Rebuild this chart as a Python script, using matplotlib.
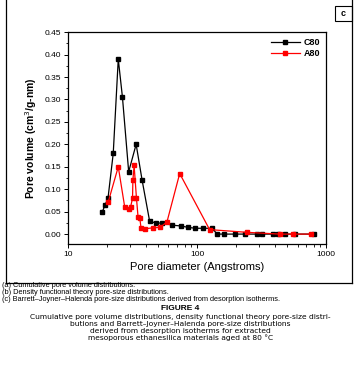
import numpy as np
import matplotlib.pyplot as plt
from matplotlib.lines import Line2D
from matplotlib.patches import Rectangle

plt.rcParams['font.family'] = ['Liberation Sans', 'DejaVu Sans']

# C80 data (BJH desorption)
c80_d = [18.4, 19.3, 20.4, 22.4, 24.5, 26.4, 29.5, 33.7, 37.5, 42.8, 47.9, 53.9,
         63.9, 75.5, 85, 97, 111, 131, 143, 163, 195, 237, 290, 319, 385, 426,
         480, 576, 804]
c80_v = [0.049, 0.064, 0.080, 0.180, 0.390, 0.305, 0.139, 0.200, 0.120, 0.030,
         0.024, 0.025, 0.020, 0.018, 0.015, 0.013, 0.013, 0.013, 0.0, 0.0, 0.0,
         0.0, 0.0, 0.0, 0.0, 0.0, 0.0, 0.0, 0.0]

# A80 data
a80_d = [20.5, 24.5, 27.5, 29.6, 30.5, 31.6, 31.8, 32.5, 33.9, 34.9, 36.0, 36.8,
         39.8, 45.6, 51.6, 58.4, 73.3, 125, 242, 435, 551, 760]
a80_v = [0.072, 0.150, 0.060, 0.057, 0.060, 0.080, 0.120, 0.153, 0.080, 0.037,
         0.035, 0.013, 0.012, 0.014, 0.015, 0.027, 0.135, 0.010, 0.004, 0.0,
         0.0, 0.0]

notes = ['(a) Cumulative pore volume distributions.',
         '(b) Density functional theory pore-size distributions.',
         '(c) Barrett\u2013Joyner\u2013Halenda pore-size distributions derived from desorption isotherms.']
caption = ['Cumulative pore volume distributions, density functional theory pore-size distri-',
           'butions and Barrett\u2013Joyner\u2013Halenda pore-size distributions',
           'derived from desorption isotherms for extracted',
           'mesoporous ethanesilica materials aged at 80 \u00b0C']

fig = plt.figure(figsize=(3.6, 3.83), dpi=100)
ax = fig.add_axes([0.189, 0.363, 0.717, 0.553])

ax.plot(c80_d, c80_v, color='black', lw=0.9, marker='s', ms=3.2, label='C80')
ax.plot(a80_d, a80_v, color='red', lw=0.9, marker='s', ms=3.2, label='A80')

ax.set_xscale('log')
ax.set_xlim(10, 1000)
ax.set_ylim(-0.022, 0.45)
ax.set_yticks(np.arange(0, 0.451, 0.05))
ax.set_yticks(np.arange(0.025, 0.45, 0.05), minor=True)
ax.yaxis.set_major_formatter(plt.FuncFormatter(lambda v, p: '%.2f' % v))
ax.xaxis.set_major_formatter(plt.FuncFormatter(lambda v, p: '%d' % v))
ax.tick_params(labelsize=6, length=3, width=0.7, pad=2)
ax.tick_params(which='minor', length=1.8, width=0.6)
for s in ax.spines.values():
    s.set_linewidth(0.9)

ax.set_xlabel('Pore diameter (Angstroms)', fontsize=8, labelpad=3)
ax.set_ylabel('Pore volume (cm$^3$/g-nm)', fontsize=7.5, fontweight='bold', labelpad=4)

leg = ax.legend(loc='upper right', frameon=False, handlelength=3.2,
                handletextpad=0.4, borderaxespad=0.3, labelspacing=0.2,
                prop={'weight': 'bold', 'size': 6.5})

# frame around the panel
W, H = 360, 383
for x0, y0, x1, y1 in [(6.5, 0, 6.5, 283), (352, 0, 352, 283), (6.5, 283, 352, 283)]:
    fig.add_artist(Line2D([x0 / W, x1 / W], [1 - y0 / H, 1 - y1 / H], color='black', lw=0.9))
fig.add_artist(Rectangle((335 / W, 1 - 20.7 / H), 17 / W, 14.7 / H, fill=False,
                         edgecolor='black', lw=0.8))
fig.text(343.5 / W, 1 - 13.3 / H, 'c', fontsize=6.5, fontweight='bold', ha='center', va='center')

for i, t in enumerate(notes):
    fig.text(2 / W, 1 - (285.5 + 7 * i) / H, t, fontsize=5.3, va='center', ha='left')
fig.text(180 / W, 1 - 309 / H, 'FIGURE 4', fontsize=6, fontweight='bold', va='center', ha='center')
for i, t in enumerate(caption):
    fig.text(180.5 / W, 1 - (316.7 + 7.1 * i) / H, t, fontsize=5.4, va='center', ha='center',
             family='DejaVu Sans')

fig.savefig('out.png', dpi=100)
